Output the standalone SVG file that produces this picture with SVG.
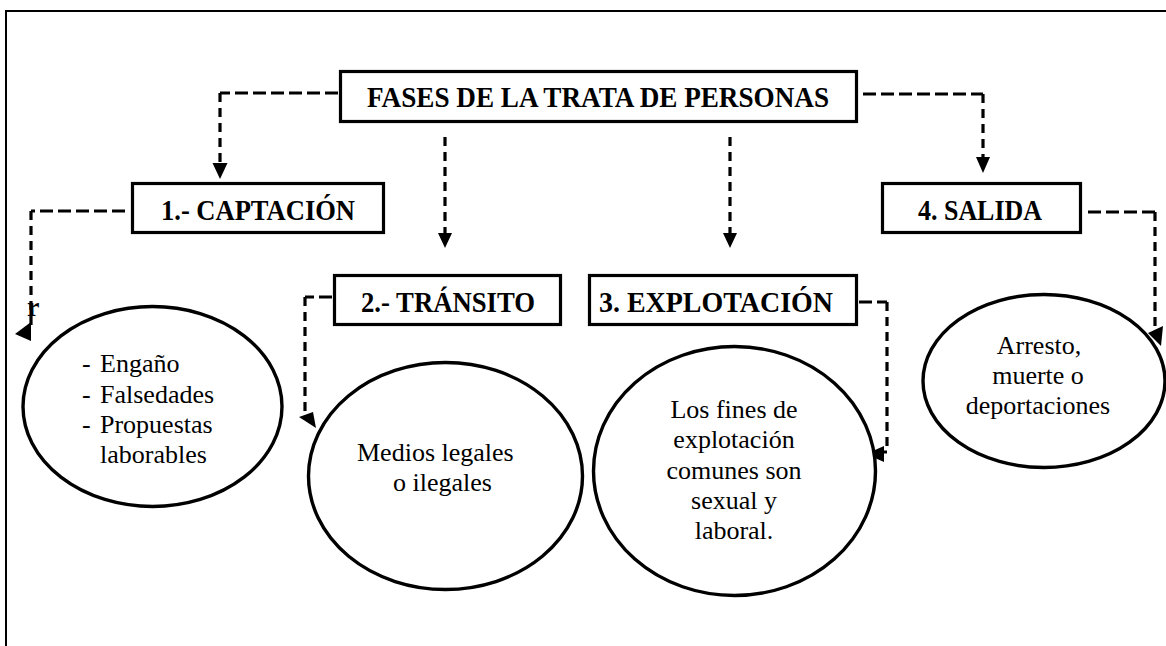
<svg xmlns="http://www.w3.org/2000/svg" width="1166" height="646" viewBox="0 0 1166 646">
<style>
.frame{fill:none;stroke:#000;stroke-width:2}
.box{fill:#fff;stroke:#000;stroke-width:3.2}
.ell{fill:#fff;stroke:#000;stroke-width:3.4}
text{font-family:'Liberation Serif','DejaVu Serif',serif;fill:#000}
.bt{font-weight:bold;font-size:28.5px;text-anchor:middle}
.t{font-size:26px}
.m{text-anchor:middle}
.h{fill:none;stroke:#000;stroke-width:3.2;stroke-dasharray:13 5}
.v{fill:none;stroke:#000;stroke-width:3.2;stroke-dasharray:9 6}
.ah{fill:#000;stroke:none}
</style>
<rect width="1166" height="646" fill="#fff"/>
<rect class="frame" x="6" y="11" width="1200" height="700"/>

<g id="connectors">
  <line class="h" x1="338" y1="93" x2="220" y2="93"/>
  <line class="v" x1="220" y1="93" x2="220" y2="164"/>
  <polygon class="ah" points="212.5,163 227.5,163 220,179"/>
  <line class="v" x1="445" y1="137" x2="445" y2="234"/>
  <polygon class="ah" points="438,233 452,233 445,248"/>
  <line class="v" x1="730" y1="137" x2="730" y2="234"/>
  <polygon class="ah" points="723,233 737,233 730,248"/>
  <line class="h" x1="863" y1="94" x2="983" y2="94"/>
  <line class="v" x1="983" y1="94" x2="983" y2="158"/>
  <polygon class="ah" points="976,157 990,157 983,173"/>
  <line class="h" x1="125" y1="211" x2="31" y2="211"/>
  <line class="v" x1="31" y1="211" x2="31" y2="326"/>
  <polygon class="ah" points="15,334 31,322 31,341"/>
  <line class="h" x1="332" y1="297" x2="305" y2="297"/>
  <line class="v" x1="305" y1="297" x2="305" y2="414"/>
  <polygon class="ah" points="299,417 313,412 316,428"/>
  <line class="h" x1="859" y1="302" x2="887" y2="302"/>
  <line class="v" x1="887" y1="302" x2="887" y2="450"/>
  <line x1="887" y1="452" x2="882" y2="452" stroke="#000" stroke-width="3"/>
  <polygon class="ah" points="866,454 884,446 884,462"/>
  <line class="h" x1="1088" y1="212" x2="1155" y2="212"/>
  <line class="v" x1="1155" y1="212" x2="1155" y2="327"/>
  <polygon class="ah" points="1148,333 1163,326 1161,346"/>
</g>

<g id="title">
  <rect class="box" x="340.5" y="71.5" width="516" height="50"/>
  <text class="bt" x="598" y="107" textLength="462" lengthAdjust="spacingAndGlyphs">FASES DE LA TRATA DE PERSONAS</text>
</g>

<g id="captacion">
  <rect class="box" x="132.5" y="183.5" width="251" height="49"/>
  <text class="bt" x="258" y="219.5" textLength="194" lengthAdjust="spacingAndGlyphs">1.- CAPTACIÓN</text>
</g>

<g id="transito">
  <rect class="box" x="334.5" y="275.5" width="226" height="49"/>
  <text class="bt" x="448" y="312" textLength="174" lengthAdjust="spacingAndGlyphs">2.- TRÁNSITO</text>
</g>

<g id="explotacion">
  <rect class="box" x="589.5" y="275.5" width="267" height="49"/>
  <text class="bt" x="716" y="312" textLength="234" lengthAdjust="spacingAndGlyphs">3. EXPLOTACIÓN</text>
</g>

<g id="salida">
  <rect class="box" x="882.5" y="183.5" width="198" height="49"/>
  <text class="bt" x="980" y="219.5" textLength="124" lengthAdjust="spacingAndGlyphs">4. SALIDA</text>
</g>

<g id="stray-r">
  <text x="27" y="316" font-weight="bold" font-size="28">r</text>
</g>

<g id="captacion-detail">
  <ellipse class="ell" cx="152.5" cy="406.5" rx="129.5" ry="100"/>
  <text class="t" x="82" y="372">-</text><text class="t" x="100" y="372">Engaño</text>
  <text class="t" x="82" y="402.5">-</text><text class="t" x="100" y="402.5">Falsedades</text>
  <text class="t" x="82" y="433">-</text><text class="t" x="100" y="433">Propuestas</text>
  <text class="t" x="100" y="463">laborables</text>
</g>

<g id="transito-detail">
  <ellipse class="ell" cx="445.5" cy="476" rx="137" ry="113.5"/>
  <text class="t" x="357" y="461">Medios legales</text>
  <text class="t" x="393" y="491">o ilegales</text>
</g>

<g id="explotacion-detail">
  <ellipse class="ell" cx="734.5" cy="471" rx="141" ry="124.5"/>
  <text class="t m" x="734" y="418">Los fines de</text>
  <text class="t m" x="734" y="448">explotación</text>
  <text class="t m" x="734" y="478.5">comunes son</text>
  <text class="t m" x="734" y="509">sexual y</text>
  <text class="t m" x="734" y="539">laboral.</text>
</g>

<g id="salida-detail">
  <ellipse class="ell" cx="1044" cy="381" rx="121" ry="86.5"/>
  <text class="t m" x="1039" y="354">Arresto,</text>
  <text class="t m" x="1038" y="384">muerte o</text>
  <text class="t m" x="1038" y="414">deportaciones</text>
</g>
</svg>
